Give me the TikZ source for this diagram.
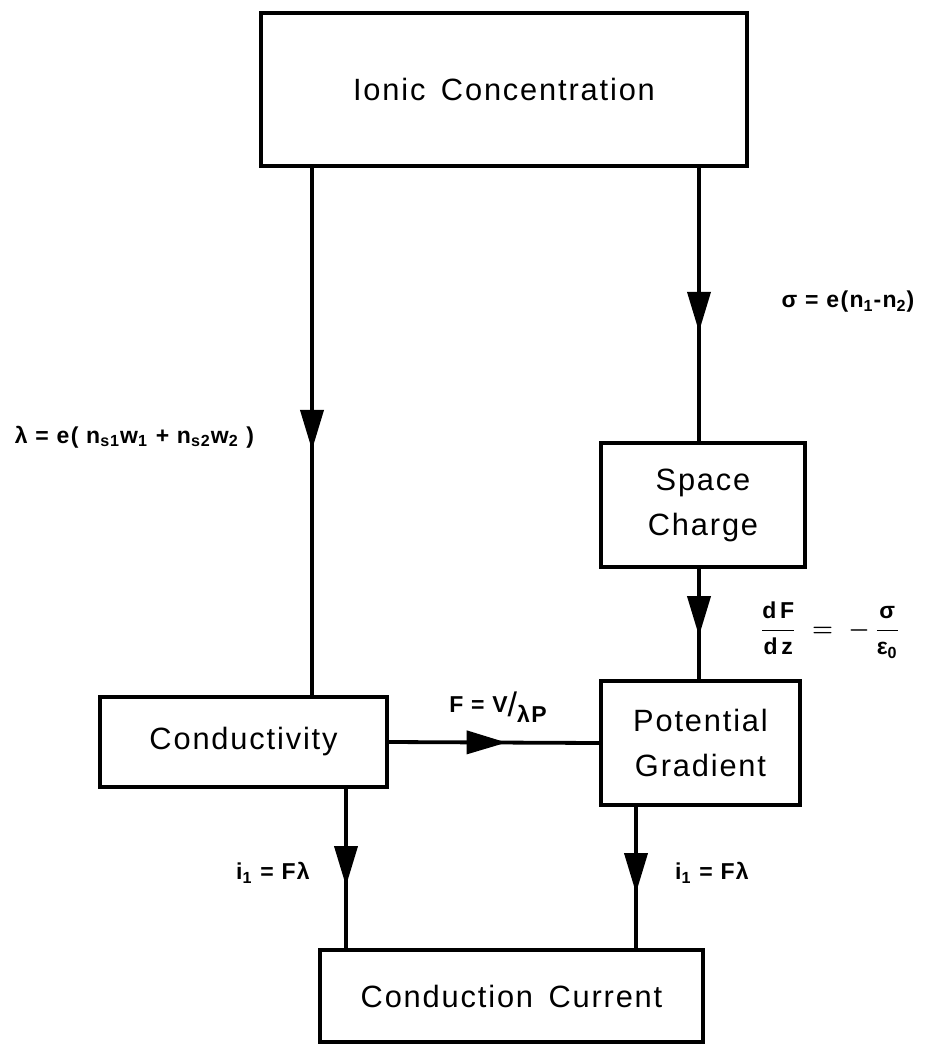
\documentclass[tikz,border=0pt]{standalone}
\usepackage{amsmath}
\usepackage{fontspec}
\setmainfont{Liberation Sans}[LetterSpace=6]
\usetikzlibrary{arrows.meta,decorations.markings}

\tikzset{
  blockbox/.style={draw=black,line width=1.8pt,rectangle,inner sep=4pt,align=center,
    font=\fontsize{15.4}{22.5}\selectfont},
  eqlabel/.style={inner sep=1pt,font=\fontsize{11.5}{14}\selectfont\bfseries\boldmath},
  flowline/.style={line width=1.9pt},
  midarrow/.style={flowline,postaction={decorate},
    decoration={markings,mark=at position #1 with {\arrow{Triangle[length=20pt,width=11.5pt]}}}}
}

\begin{document}
\begin{tikzpicture}[x=0.5pt,y=-0.5pt]
\useasboundingbox (0,0) rectangle (928,1045);
% blocks
\node[blockbox,minimum width=243pt,minimum height=76.5pt] (ionic) at (504,89.5) {Ionic\hspace{0.5em}Concentration};
\node[blockbox,minimum width=102pt,minimum height=62pt] (space) at (703,505) {Space\\Charge};
\node[blockbox,minimum width=99.5pt,minimum height=62pt] (grad) at (700.5,743) {Potential\\Gradient};
\node[blockbox,minimum width=143.5pt,minimum height=45pt] (cond) at (243.5,742) {Conductivity};
\node[blockbox,minimum width=191.5pt,minimum height=46pt] (curr) at (511.5,996) {Conduction\hspace{0.5em}Current};
% columns of the connectors
\coordinate (lcol) at (312,0);
\coordinate (rcol) at (699,0);
\coordinate (ccl) at (346,0);
\coordinate (ccr) at (636,0);
% labels
\node[eqlabel] (lamlab) at (134.5,437) {λ = e( n\textsubscript{s1}w\textsubscript{1} + n\textsubscript{s2}w\textsubscript{2} )};
\node[eqlabel] (siglab) at (848,302) {σ = e(n\textsubscript{1}-n\textsubscript{2})};
\node[eqlabel] (dflab) at (830,630) {$\dfrac{\text{d\,F}}{\text{d\,z}} \;=\; -\,\dfrac{\text{σ}}{\text{ε}_{\text{0}}}$};
\node[eqlabel] (flab) at (498,707) {F = V\raisebox{-0.3ex}{\mdseries\fontsize{17}{17}\selectfont/}\raisebox{-0.8ex}{λP}};
\node[eqlabel] (ileft) at (273,873) {i\textsubscript{1} = Fλ};
\node[eqlabel] (iright) at (712,873) {i\textsubscript{1} = Fλ};
% connectors
\draw[midarrow=0.535] (ionic.south -| lcol) -- (cond.north -| lcol);
\draw[midarrow=0.6] (ionic.south -| rcol) -- (space.north -| rcol);
\draw[midarrow=0.61] (space.south -| rcol) -- (grad.north -| rcol);
\draw[midarrow=0.56] (cond.east) -- (grad.west);
\draw[midarrow=0.61] (cond.south -| ccl) -- (curr.north -| ccl);
\draw[midarrow=0.61] (grad.south -| ccr) -- (curr.north -| ccr);
\end{tikzpicture}
\end{document}
